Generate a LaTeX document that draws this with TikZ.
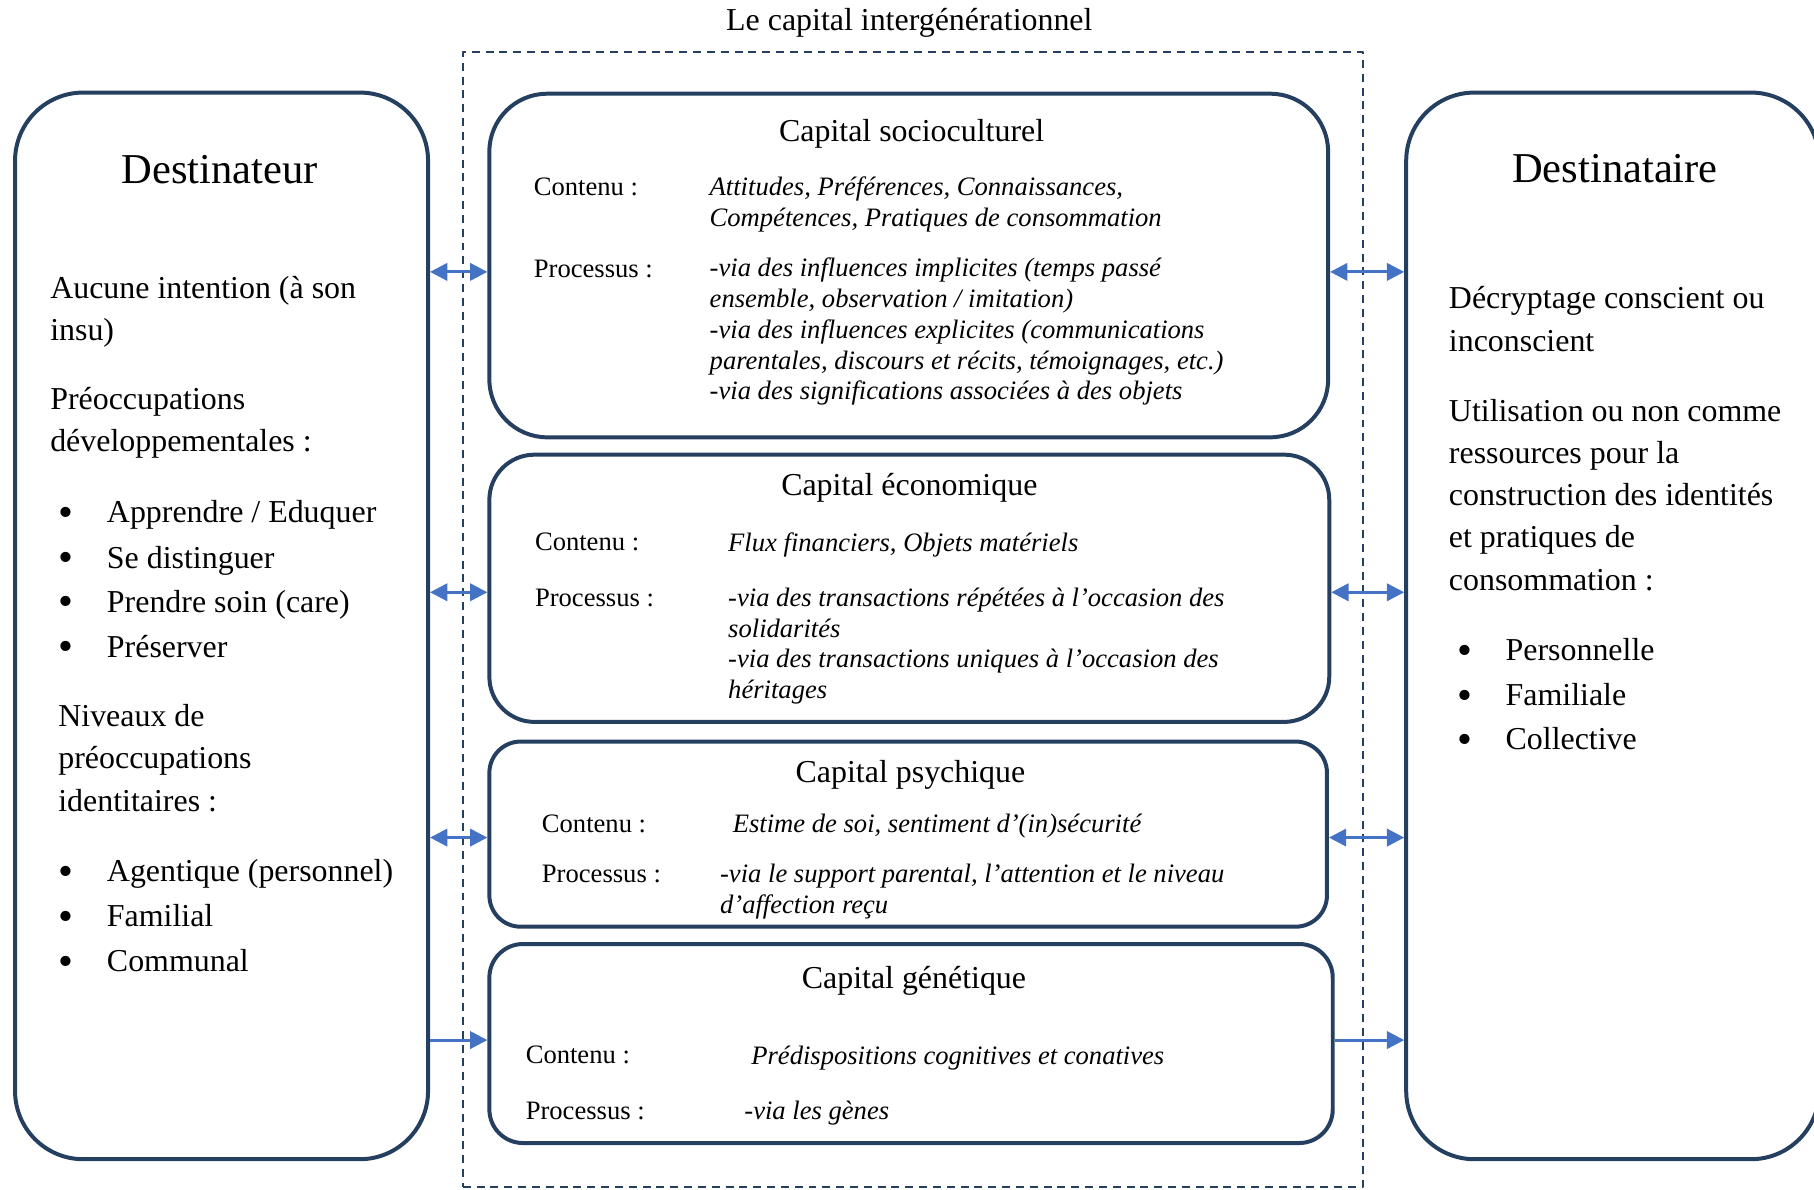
\documentclass[tikz,border=0pt]{standalone}
\usepackage{fontspec}
\setmainfont{Liberation Serif}
\usetikzlibrary{arrows.meta}
\definecolor{boxnavy}{HTML}{243F60}
\definecolor{linkblue}{HTML}{4472C4}
\newcommand{\pxu}{0.435pt}

\begin{document}
\begin{tikzpicture}[
    x={(0.435pt,0pt)},
    y={(0pt,-0.435pt)},
    line join=round,
    sidebox/.style={draw=boxnavy, line width=1.5pt, rounded corners=59*\pxu,
      minimum width=357*\pxu, minimum height=922*\pxu, inner sep=0pt},
    capbox/.style={draw=boxnavy, line width=1.5pt, inner sep=0pt},
    frame/.style={draw=boxnavy, line width=0.6pt, dash pattern=on 3pt off 2.2pt,
      inner sep=0pt},
    link/.style={draw=linkblue, line width=1.1pt,
      {Triangle[length=6.5pt,width=6.5pt]}-{Triangle[length=6.5pt,width=6.5pt]}},
    onelink/.style={draw=linkblue, line width=1.1pt,
      -{Triangle[length=6.5pt,width=6.5pt]}},
    head/.style={font=\fontsize{12}{14}\selectfont, anchor=base, inner sep=0pt},
    big/.style={font=\fontsize{16}{19}\selectfont, anchor=base, inner sep=0pt},
    small/.style={font=\fontsize{10}{11.6}\selectfont, anchor=base west,
      inner sep=0pt, align=left},
    smallit/.style={small, font=\fontsize{10}{11.6}\selectfont\itshape},
    side/.style={font=\fontsize{12}{15.9}\selectfont, anchor=base west,
      inner sep=0pt, align=left},
    dot/.style={font=\fontsize{16}{18}\selectfont, anchor=base, inner sep=0pt}
  ]

  \useasboundingbox (0,0) rectangle (1568,1028);

  \node[head] (title) at (786,26) {Le capital intergénérationnel};
  \node[frame, minimum width=778*\pxu, minimum height=981*\pxu]
    (frame) at (789,535.5) {};

  % the two sides
  \node[sidebox] (dest) at (191.5,541) {};
  \node[sidebox] (destin) at (1394,541) {};

  % the four capitals
  \node[capbox, minimum width=725*\pxu, minimum height=297*\pxu,
    rounded corners=50*\pxu] (socio) at (785.5,229.5) {};
  \node[capbox, minimum width=726*\pxu, minimum height=231*\pxu,
    rounded corners=39*\pxu] (eco) at (786,508.5) {};
  \node[capbox, minimum width=724*\pxu, minimum height=160*\pxu,
    rounded corners=27*\pxu] (psy) at (785,721) {};
  \node[capbox, minimum width=729*\pxu, minimum height=172*\pxu,
    rounded corners=29*\pxu] (gen) at (787.5,902) {};

  % destinateur (multi-line texts sit on their last line)
  \node[big] (destTitle) at (190,159) {Destinateur};
  \node[side] (intent) at (43,{258+36.55}) {Aucune intention (à son\\insu)};
  \node[side] (preoc) at (43,{354+36.55}) {Préoccupations\\développementales :};
  \foreach \y/\t [count=\i] in {452/{Apprendre / Eduquer}, 491/{Se distinguer},
      529/{Prendre soin (care)}, 568/{Préserver}} {
    \node[dot] (dotA\i) at (57,\y+3) {\textbullet};
    \node[side] (itemA\i) at (92,\y) {\t};
  }
  \node[side] (niveaux) at (50,{628+2*36.55}) {Niveaux de\\préoccupations\\identitaires :};
  \foreach \y/\t [count=\i] in {762/{Agentique (personnel)}, 801/{Familial},
      840/{Communal}} {
    \node[dot] (dotB\i) at (57,\y+3) {\textbullet};
    \node[side] (itemB\i) at (92,\y) {\t};
  }

  % destinataire
  \node[big] (destinTitle) at (1396,158) {Destinataire};
  \node[side] (decrypt) at (1252,{267+36.55}) {Décryptage conscient ou\\inconscient};
  \node[side] (usage) at (1252,{364+4*36.55}) {Utilisation ou non comme\\ressources pour la\\construction des identités\\et pratiques de\\consommation :};
  \foreach \y/\t [count=\i] in {571/{Personnelle}, 610/{Familiale},
      648/{Collective}} {
    \node[dot] (dotC\i) at (1266,\y+3) {\textbullet};
    \node[side] (itemC\i) at (1301,\y) {\t};
  }

  % socioculturel
  \node[head] (socioTitle) at (788,122) {Capital socioculturel};
  \node[small] (socioC) at (461,169) {Contenu :};
  \node[smallit] (socioCt) at (613,{169+26.67}) {Attitudes, Préférences, Connaissances,\\Compétences, Pratiques de consommation};
  \node[small] (socioP) at (461,240) {Processus :};
  \node[smallit] (socioPt) at (613,{239+4*26.67}) {-via des influences implicites (temps passé\\ensemble, observation / imitation)\\-via des influences explicites (communications\\parentales, discours et récits, témoignages, etc.)\\-via des significations associées à des objets};

  % economique
  \node[head] (ecoTitle) at (786,428) {Capital économique};
  \node[small] (ecoC) at (462,476) {Contenu :};
  \node[smallit] (ecoCt) at (629,477) {Flux financiers, Objets matériels};
  \node[small] (ecoP) at (462,524) {Processus :};
  \node[smallit] (ecoPt) at (629,{524+3*26.67}) {-via des transactions répétées à l’occasion des\\solidarités\\-via des transactions uniques à l’occasion des\\héritages};

  % psychique
  \node[head] (psyTitle) at (787,676) {Capital psychique};
  \node[small] (psyC) at (468,720) {Contenu :};
  \node[smallit] (psyCt) at (633,720) {Estime de soi, sentiment d’(in)sécurité};
  \node[small] (psyP) at (468,763) {Processus :};
  \node[smallit] (psyPt) at (622,{763+26.67}) {-via le support parental, l’attention et le niveau\\d’affection reçu};

  % genetique
  \node[head] (genTitle) at (790,854) {Capital génétique};
  \node[small] (genC) at (454,919) {Contenu :};
  \node[smallit] (genCt) at (649,920) {Prédispositions cognitives et conatives};
  \node[small] (genP) at (454,968) {Processus :};
  \node[smallit] (genPt) at (643,968) {-via les gènes};

  % links
  \foreach \c/\dy in {socio/-2.4pt,eco/-1.5pt,psy/-1.3pt} {
    \draw[link] ([yshift=\dy]dest.east |- \c.west) -- ([yshift=\dy]\c.west);
    \draw[link] ([yshift=\dy]\c.east) -- ([yshift=\dy]destin.west |- \c.east);
  }
  \draw[onelink] ([yshift=1.3pt]dest.east |- gen.west) -- ([yshift=1.3pt]gen.west);
  \draw[onelink] ([yshift=1.3pt]gen.east) -- ([yshift=1.3pt]destin.west |- gen.east);
\end{tikzpicture}
\end{document}
